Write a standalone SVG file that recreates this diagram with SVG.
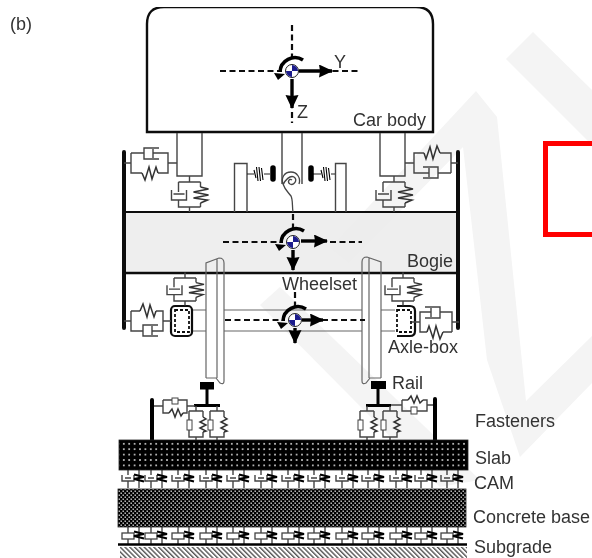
<svg xmlns="http://www.w3.org/2000/svg" width="592" height="558" viewBox="0 0 592 558">
<style>
text{font-family:"Liberation Sans",Arial,sans-serif;font-size:18px;fill:#333}
.t{fill:none;stroke:#444;stroke-width:1.4}
.w{fill:none;stroke:#666;stroke-width:1.2}
.d{fill:none;stroke:#111;stroke-width:2.2;stroke-dasharray:6 3.5}
.a{fill:none;stroke:#000;stroke-width:3.4}
.zz{fill:none;stroke:#333;stroke-width:1.5}
.wm{fill:#f4f4f4}
</style>
<defs>
<filter id="soft" x="0" y="0" width="100%" height="100%"><feGaussianBlur stdDeviation="0.4"/></filter>
<marker id="h" markerUnits="userSpaceOnUse" markerWidth="15" markerHeight="14" refX="13" refY="6.500" orient="auto"><path d="M0,0 L14,6.500 L0,13 L1,6.500Z" fill="#000"/></marker>
<pattern id="slabdots" width="5.400" height="5.400" patternUnits="userSpaceOnUse" x="122" y="442"><rect width="5.400" height="5.400" fill="#000"/><rect x="1" y="1" width="1.600" height="1.600" fill="#ddd"/></pattern>
<pattern id="basedots" width="4" height="4" patternUnits="userSpaceOnUse" x="118" y="490"><rect width="4" height="4" fill="#000"/><rect x="0.500" y="0.500" width="1.400" height="1.400" fill="#ddd"/><rect x="2.500" y="2.500" width="1.400" height="1.400" fill="#ddd"/></pattern>
<pattern id="hatch" width="3.400" height="3.400" patternUnits="userSpaceOnUse" patternTransform="rotate(-45)"><rect width="3.400" height="3.400" fill="#fff"/><rect width="1.400" height="3.400" fill="#555"/></pattern>
<g id="cg">
<circle r="6.500" fill="#fff" stroke="#222" stroke-width="1"/>
<path d="M0,0V-6A6,6 0 0 1 6,0Z M0,0H-6A6,6 0 0 0 0,6Z" fill="#1c1c8c"/>
<path d="M11,-11 A15,15 0 0 0 -12,1" fill="none" stroke="#000" stroke-width="3.600"/>
<path d="M-18,2 L-7,3 L-14,9Z" fill="#000"/>
</g>
<g id="vert">
<path class="t" d="M0,-6V0M-11,0H11M-11,0V10M-11,18V25H11M0,25V30M11,0V5M11,21V25"/>
<path class="t" d="M-18,8V18H-3V8M-16,12H-5"/>
<path class="zz" d="M11,5L19,7L4,10L19,13L4,16L18,18L11,21"/>
</g>
<g id="lat">
<path class="t" d="M0,0H7M7,-10V10H18M34,10H44V-10H29M7,-10H20M44,0H53"/>
<path class="t" d="M35,-15H20V-4H35M29,-14V-5"/>
<path class="zz" d="M18,10L21,17L25,4L28,16L32,4L34,10"/>
</g>
<g id="latp">
<path class="t" d="M0,0H7M7,-10V10H19M28,10H39V-10H32M7,-10H16M39,0H47"/>
<path class="t" d="M34,4H19V15H34M28,5V14"/>
<path class="zz" d="M16,-10L19,-17L23,-4L26,-16L30,-4L32,-10"/>
</g>
<g id="fv">
<path class="t" d="M0,0V5M-7,5H7M-7,5V31H7V26M7,5V11M0,31V35"/>
<rect x="-9" y="14" width="5" height="10" fill="#fff" stroke="#444"/>
<path class="zz" d="M7,11L10,13L4,16L10,19L4,22L10,25L7,26"/>
</g>
<g id="unit">
<path class="t" d="M0,0V5M-6,5V11H6V5M-3,8H3M0,11V18" stroke-width="1.300"/>
<path stroke="#000" stroke-width="1" fill="none" d="M11,0V18"/>
<path stroke="#000" stroke-width="2" fill="none" d="M6,4.500L16,7L6,9L16,11.500"/>
</g>
<g id="unitb">
<path class="t" d="M0,0V6M0,12V17"/>
<rect x="-6" y="6" width="12" height="6" fill="#fff" stroke="#444" stroke-width="1.300"/>
<path stroke="#000" stroke-width="1" fill="none" d="M11,0V17"/>
<path stroke="#000" stroke-width="2" fill="none" d="M6,4.500L16,7L6,9L16,11.500"/>
</g>
</defs>
<rect width="592" height="558" fill="#fff"/>
<g id="watermark">
<path class="wm" d="M533,32L592,90V145L506,59Z"/>
<path class="wm" d="M476,91L497,117L526,401L592,336V383L520,457L487,360L463,147L349,263L330,248Z"/>
<path class="wm" d="M260,305L280,287L480,480L440,487Z"/>
</g>
<g id="frame">
<path d="M592,143.500H545.500V234.500H592" fill="#fff" stroke="#f00" stroke-width="5"/>
</g>
<g filter="url(#soft)">
<text x="10" y="30">(b)</text>
<g id="bogie-frame">
<rect x="124" y="212" width="334" height="61" fill="#ebebeb" fill-opacity=".85"/>
<path d="M124,212H458" stroke="#111" stroke-width="2"/>
<path d="M124,273H458" stroke="#111" stroke-width="2.600"/>
<path d="M124,152V328M458,152V328" stroke="#111" stroke-width="4" stroke-linecap="round" fill="none"/>
<path class="t" d="M234.500,212V163.500H247V212M335.500,212V163.500H346V212" />
<text x="407" y="267">Bogie</text>
</g>
<g id="car-body">
<path d="M147,132V24Q147,7 164,7H416Q433,7 433,24V132Z" fill="#fff" stroke="#111" stroke-width="2.400"/>
<path class="d" d="M220,71H282M304,71H358M292,25V58M292,112V123"/>
<use href="#cg" x="292" y="71"/>
<path class="a" d="M299,71H332" marker-end="url(#h)"/>
<path class="a" d="M292,79V108" marker-end="url(#h)"/>
<text x="334" y="68">Y</text>
<text x="297" y="118">Z</text>
<text x="353" y="126">Car body</text>
</g>
<g id="bogie">
<path class="d" d="M223,242H283M330,242H362M293,214V228"/>
<use href="#cg" x="293" y="242"/>
<path class="a" d="M301,241H327" marker-end="url(#h)"/>
<path class="a" d="M293,250V270" marker-end="url(#h)"/>
</g>
<g id="wheelset">
<path class="w" d="M224,310H362M224,331H362M192,310H206M192,331H206M381,310H395M381,331H395"/>
<path class="w" d="M206,378V263L219,258Q224,258 224,263V381Q224,385 220,383L216,378H206M217,259V378"/>
<path class="w" d="M381,378V262L367,257Q362,257 362,262V381Q362,385 366,383L370,378H381M369,258V378"/>
<path class="d" d="M225,320H285M303,320H365M295,292V306"/>
<use href="#cg" x="295" y="320"/>
<path class="a" d="M302,320H323" marker-end="url(#h)"/>
<path class="a" d="M295,328V343" marker-end="url(#h)"/>
<text x="282" y="290">Wheelset</text>
</g>
<g id="axle-box-left">
<rect x="171" y="306" width="21" height="30" rx="4" fill="#fff" stroke="#111" stroke-width="2.200"/>
<rect x="175" y="310" width="14" height="22" fill="none" stroke="#111" stroke-width="1.800" stroke-dasharray="3 2"/>
</g>
<g id="axle-box-right">
<path d="M397,306H410Q415,306 415,311V331Q415,336 410,336H397" fill="none" stroke="#111" stroke-width="2.200"/>
<rect x="397" y="310" width="14" height="22" fill="none" stroke="#111" stroke-width="1.800" stroke-dasharray="3 2"/>
<text x="388" y="353">Axle-box</text>
</g>
<g id="rails">
<rect x="200" y="382" width="14" height="7.500" fill="#000"/>
<rect x="371" y="381" width="15" height="8" fill="#000"/>
<path d="M207,389V405M378,389V405" stroke="#000" stroke-width="3"/>
<path d="M194,405.500H220M366,405.500H391" stroke="#000" stroke-width="3"/>
<text x="392" y="389">Rail</text>
</g>
<g id="connectors">
<path class="t" d="M282,133V184M302,133V184M177,133V176H202V133M380,133V176H405V133"/>
<use href="#vert" x="189.500" y="182"/>
<use href="#vert" x="394" y="182"/>
<use href="#lat" x="124" y="163"/>
<use href="#lat" transform="rotate(180 291 163) translate(124 163)"/>
<use href="#vert" transform="translate(185 278) scale(1 .92)"/>
<use href="#vert" transform="translate(403 278) scale(1 .92)"/>
<use href="#latp" x="124" y="321"/>
<use href="#latp" transform="rotate(180 291.500 321.500) translate(124 321)"/>
<path d="M247,174H254M264,174H270M312,174H321M331,174H335" stroke="#222" stroke-width="1.200"/>
<path d="M254,170L256,178M256.500,167L258,181M259,167L260.500,181M261.500,168L263,180M321,170L323,178M323.500,167L325,181M326,167L327.500,181M328.500,168L330,180" stroke="#000" stroke-width="1.100"/>
<path d="M273,168V179M311,168V179" stroke="#000" stroke-width="5.500" stroke-linecap="round"/>
<path d="M283,185C285,180 290,175 294,177C298,180 294,186 290,184C287,182 289,178 292,180M299,184C301,178 297,172 291,172C284,172 281,178 283,184C285,190 288,192 291,196C293,200 292,206 293,212" fill="none" stroke="#444" stroke-width="1.300"/>
<path class="t" d="M153,406H163M163,400V413H169M183,413H187V400H163M187,406H195"/>
<rect x="172" y="398" width="6" height="6" fill="#fff" stroke="#444"/>
<path class="zz" d="M169,413L172,409L175,417L178,409L181,416L183,413" stroke-width="1.200"/>
<path class="t" d="M391,405H402M402,400V411H427V400H423M408,400H402M427,405H433"/>
<rect x="411" y="407" width="6" height="7" fill="#fff" stroke="#444"/>
<path class="zz" d="M408,400L411,396L414,403L417,396L420,403L423,400" stroke-width="1.200"/>
<use href="#fv" x="196" y="406"/>
<use href="#fv" x="217" y="406"/>
<use href="#fv" x="367" y="406"/>
<use href="#fv" x="390" y="406"/>
<g id="cam-units">
<use href="#unit" x="128" y="470"/><use href="#unit" x="151" y="470"/><use href="#unit" x="178" y="470"/><use href="#unit" x="206" y="470"/><use href="#unit" x="233" y="470"/><use href="#unit" x="261" y="470"/><use href="#unit" x="288" y="470"/><use href="#unit" x="314" y="470"/><use href="#unit" x="342" y="470"/><use href="#unit" x="368" y="470"/><use href="#unit" x="396" y="470"/><use href="#unit" x="421" y="470"/><use href="#unit" x="447" y="470"/>
</g>
<g id="subgrade-units">
<use href="#unitb" x="128" y="527"/><use href="#unitb" x="151" y="527"/><use href="#unitb" x="178" y="527"/><use href="#unitb" x="206" y="527"/><use href="#unitb" x="233" y="527"/><use href="#unitb" x="261" y="527"/><use href="#unitb" x="288" y="527"/><use href="#unitb" x="314" y="527"/><use href="#unitb" x="342" y="527"/><use href="#unitb" x="368" y="527"/><use href="#unitb" x="396" y="527"/><use href="#unitb" x="421" y="527"/><use href="#unitb" x="447" y="527"/>
</g>
</g>
<g id="fasteners">
<path d="M152,400V441M435,399V441" stroke="#000" stroke-width="4" stroke-linecap="round"/>
<text x="475" y="427">Fasteners</text>
</g>
<g id="slab">
<rect x="119" y="440" width="349" height="30" fill="url(#slabdots)" stroke="#222" stroke-width="0.800"/>
<text x="475" y="464">Slab</text>
</g>
<g id="cam"><text x="474" y="489">CAM</text></g>
<g id="concrete-base">
<rect x="118" y="489" width="348" height="38" fill="url(#basedots)" stroke="#222" stroke-width="0.800"/>
<text x="473" y="523">Concrete base</text>
</g>
<g id="subgrade">
<path d="M118,544.500H467" stroke="#000" stroke-width="2.500"/>
<rect x="120" y="547" width="347" height="11" fill="url(#hatch)"/>
<text x="474" y="553">Subgrade</text>
</g>
</g>
</svg>
